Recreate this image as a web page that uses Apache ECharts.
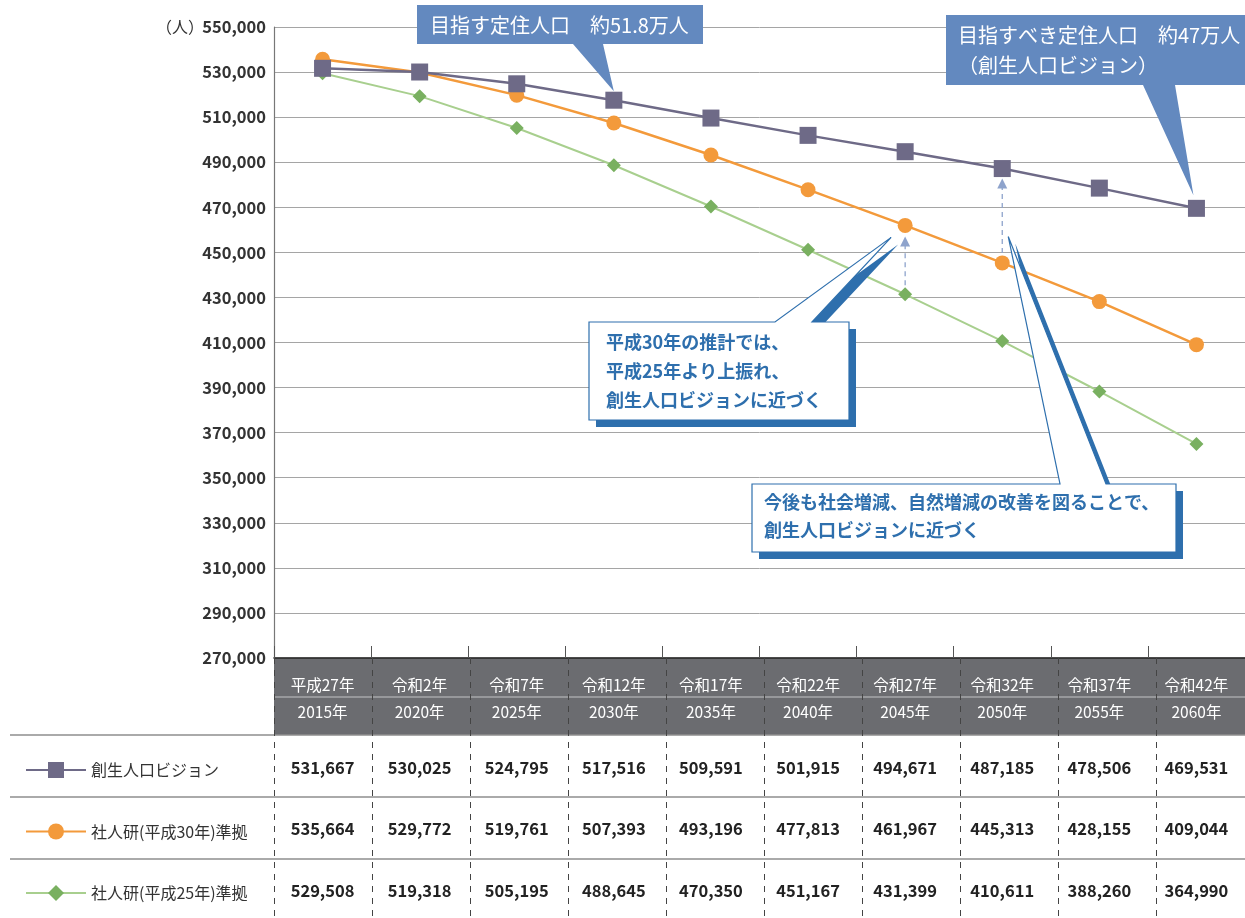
<!DOCTYPE html>
<html>
<head>
<meta charset="utf-8">
<style>
  html, body { margin: 0; padding: 0; background: #fff; }
  #chart { width: 1245px; height: 918px; }
</style>
<script src="https://cdn.jsdelivr.net/npm/echarts@6.0.0/dist/echarts.min.js"></script>
</head>
<body>
<div id="chart"></div>
<script>
const FONT = '"Noto Sans CJK JP", "Noto Sans", sans-serif';

// data
const eras = ["平成27年", "令和2年", "令和7年", "令和12年", "令和17年", "令和22年", "令和27年", "令和32年", "令和37年", "令和42年"];
const years = ["2015年", "2020年", "2025年", "2030年", "2035年", "2040年", "2045年", "2050年", "2055年", "2060年"];
const vision = [531667, 530025, 524795, 517516, 509591, 501915, 494671, 487185, 478506, 469531];
const ipss30 = [535664, 529772, 519761, 507393, 493196, 477813, 461967, 445313, 428155, 409044];
const ipss25 = [529508, 519318, 505195, 488645, 470350, 451167, 431399, 410611, 388260, 364990];
const yTicks = [270000, 290000, 310000, 330000, 350000, 370000, 390000, 410000, 430000, 450000, 470000, 490000, 510000, 530000, 550000];
const seriesNames = ["創生人口ビジョン", "社人研(平成30年)準拠", "社人研(平成25年)準拠"];

const GRID = { left: 274, top: 27, width: 980, height: 631 };
const ROWS_Y = [768, 829, 891];
const BLUE = "#2e6fad";
const FILL_BLUE = "#6389bf";

const chart = echarts.init(document.getElementById("chart"));

chart.setOption({
  animation: false,
  backgroundColor: "#fff",
  textStyle: { fontFamily: FONT },
  grid: GRID,
  legend: {
    orient: "vertical",
    left: 20,
    top: 755,
    itemWidth: 60,
    itemHeight: 20,
    itemGap: 41.5,
    textStyle: { fontFamily: FONT, fontSize: 16, lineHeight: 20, color: "#333" },
    data: seriesNames,
  },
  xAxis: {
    type: "category",
    data: years,
    boundaryGap: true,
    axisLine: { lineStyle: { color: "#111", width: 1.5 } },
    axisTick: { show: true, inside: true, length: 12, lineStyle: { color: "#555" } },
    axisLabel: {
      margin: 14,
      formatter: (v, i) => `{a|${eras[i]}}\n{b|${v}}`,
      rich: {
        a: { color: "#fff", fontSize: 15.5, lineHeight: 27, fontFamily: FONT },
        b: { color: "#fff", fontSize: 15.5, lineHeight: 27, fontFamily: FONT },
      },
    },
  },
  yAxis: {
    type: "value",
    min: 270000,
    max: 550000,
    axisLine: { show: true, lineStyle: { color: "#777", width: 1.2 } },
    axisTick: { show: false, customValues: yTicks },
    axisLabel: {
      customValues: yTicks,
      margin: 8,
      fontSize: 16.5,
      fontWeight: "bold",
      color: "#333",
      fontFamily: FONT,
      formatter: (v) => v.toLocaleString("en-US"),
    },
    splitLine: { show: true, lineStyle: { color: "#a5a5a5", width: 1 } },
  },
  series: [
    {
      name: seriesNames[0],
      type: "line",
      data: vision,
      z: 5,
      symbol: "rect",
      symbolSize: 17,
      itemStyle: { color: "#6e6a87" },
      lineStyle: { color: "#6e6a87", width: 2.5 },
    },
    {
      name: seriesNames[1],
      type: "line",
      data: ipss30,
      z: 4,
      symbol: "circle",
      symbolSize: 15,
      itemStyle: { color: "#f39a3b" },
      lineStyle: { color: "#f39a3b", width: 2.5 },
    },
    {
      name: seriesNames[2],
      type: "line",
      data: ipss25,
      z: 3,
      symbol: "diamond",
      symbolSize: 14,
      itemStyle: { color: "#79b060" },
      lineStyle: { color: "#a8cf8e", width: 2 },
    },
  ],
});

// annotations and the table, placed against the drawn axes
const px = (i, v) => chart.convertToPixel({ gridIndex: 0 }, [i, v]);
const gfx = [];

// header band of the table
const right = 1245;
gfx.push({ type: "rect", z: -1, shape: { x: GRID.left, y: GRID.top + GRID.height, width: right - GRID.left, height: 77 }, style: { fill: "#6b6c70" } });
gfx.push({ type: "line", z: 1, shape: { x1: GRID.left, y1: 697, x2: right, y2: 697 }, style: { stroke: "#c4c4c6", lineWidth: 1.2 } });

// row separators
[735, 797, 859].forEach((y) => {
  gfx.push({ type: "line", shape: { x1: 10, y1: y, x2: right, y2: y }, style: { stroke: "#8e8e8e", lineWidth: 1.3 } });
});

// dashed column boundaries
const colW = GRID.width / years.length;
for (let k = 0; k <= years.length; k++) {
  const x = Math.round(GRID.left + colW * k) + 0.5;
  gfx.push({ type: "line", z: 1, shape: { x1: x, y1: 658, x2: x, y2: 918 }, style: { stroke: "#444", lineWidth: 1, lineDash: [6, 6] } });
}

// table values
[vision, ipss30, ipss25].forEach((arr, r) => {
  arr.forEach((v, i) => {
    const [x] = px(i, v);
    gfx.push({
      type: "text", z: 2, x, y: ROWS_Y[r],
      style: { text: v.toLocaleString("en-US"), font: `bold 16.5px ${FONT}`, fill: "#222", align: "center", verticalAlign: "middle" },
    });
  });
});

// unit label
gfx.push({ type: "text", x: 156, y: 27, style: { text: "（人）", font: `16px ${FONT}`, fill: "#333", verticalAlign: "middle" } });

// filled blue callouts
function filledCallout(x0, y0, x1, y1, b0, b1, tip, lines, textX, lineY) {
  gfx.push({
    type: "polygon", z: 10,
    shape: { points: [[x0, y0], [x1, y0], [x1, y1], [b1, y1], tip, [b0, y1], [x0, y1]] },
    style: { fill: FILL_BLUE },
  });
  lines.forEach((t, j) => {
    gfx.push({ type: "text", z: 11, x: textX, y: lineY[j], style: { text: t, font: `20px ${FONT}`, fill: "#fff", verticalAlign: "middle" } });
  });
}

// outlined callouts with a solid offset shadow
function outlinedCallout(x0, y0, x1, y1, b0, b1, tip, lines, textX, lineY) {
  const pts = [[x0, y0], [b0, y0], tip, [b1, y0], [x1, y0], [x1, y1], [x0, y1]];
  gfx.push({ type: "polygon", z: 10, x: 7, y: 7, shape: { points: pts }, style: { fill: BLUE } });
  gfx.push({ type: "polygon", z: 11, shape: { points: pts }, style: { fill: "#fff", stroke: BLUE, lineWidth: 1.2 } });
  lines.forEach((t, j) => {
    gfx.push({ type: "text", z: 12, x: textX, y: lineY[j], style: { text: t, font: `bold 18px ${FONT}`, fill: BLUE, verticalAlign: "middle" } });
  });
}

// dashed arrows between projections
function dashedArrow(x, yFrom, yTo) {
  gfx.push({ type: "line", z: 9, shape: { x1: x, y1: yFrom, x2: x, y2: yTo + 9 }, style: { stroke: "#8ea3cc", lineWidth: 1.3, lineDash: [5, 4] } });
  gfx.push({ type: "polygon", z: 9, shape: { points: [[x - 5, yTo + 10], [x + 5, yTo + 10], [x, yTo]] }, style: { fill: "#8ea3cc" } });
}

const p2030 = px(3, vision[3]);
const p2060 = px(9, vision[9]);
const o2045 = px(6, ipss30[6]);
const g2045 = px(6, ipss25[6]);
const o2050 = px(7, ipss30[7]);
const v2050 = px(7, vision[7]);

dashedArrow(o2045[0], g2045[1] - 9, o2045[1] + 11);
dashedArrow(v2050[0], o2050[1] - 10, v2050[1] + 10);

filledCallout(417, 5, 703, 44, 573, 603, [p2030[0], p2030[1] - 9],
  ["目指す定住人口　約51.8万人"], 430, [25]);
filledCallout(946, 15, 1250, 85, 1143, 1175, [p2060[0] - 3, p2060[1] - 13],
  ["目指すべき定住人口　約47万人", "（創生人口ビジョン）"], 958, [35, 65]);

outlinedCallout(589, 322, 849, 420, 775, 812, [o2045[0] - 14, o2045[1] + 12],
  ["平成30年の推計では、", "平成25年より上振れ、", "創生人口ビジョンに近づく"], 606, [342, 371, 400]);
outlinedCallout(752, 484, 1176, 552, 1060, 1106, [v2050[0] + 6, v2050[1] + 68],
  ["今後も社会増減、自然増減の改善を図ることで、", "創生人口ビジョンに近づく"], 764, [502, 530]);

chart.setOption({ graphic: { elements: gfx } });
</script>
</body>
</html>
